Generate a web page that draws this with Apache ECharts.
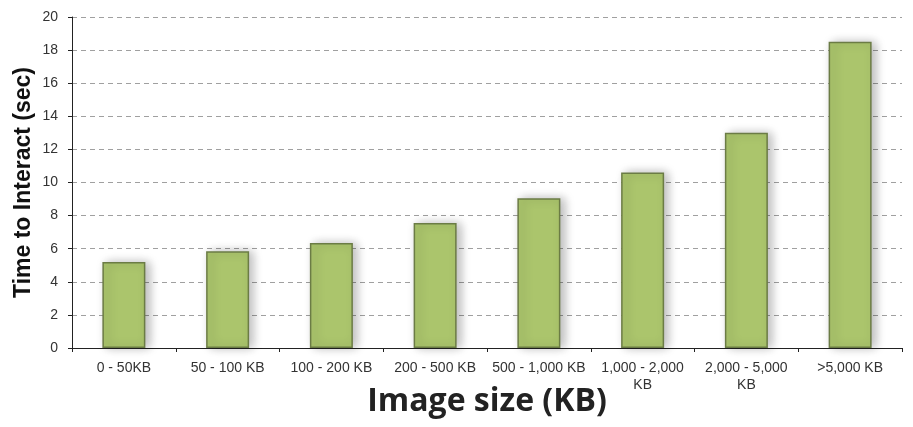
<!DOCTYPE html>
<html>
<head>
<meta charset="utf-8">
<script src="https://cdn.jsdelivr.net/npm/echarts@6/dist/echarts.min.js"></script>
<style>
  html, body { margin: 0; padding: 0; background: #ffffff; }
  #chart { width: 913px; height: 427px; }
</style>
</head>
<body>
<div id="chart"></div>
<script>
// Image size buckets and the average time to interact for each
const categories = ['0 - 50KB', '50 - 100 KB', '100 - 200 KB', '200 - 500 KB', '500 - 1,000 KB', '1,000 - 2,000 KB', '2,000 - 5,000 KB', '>5,000 KB'];
const timeToInteract = [5.2, 5.85, 6.35, 7.55, 9.05, 10.6, 13.0, 18.5];
const yTicks = { min: 0, max: 20, interval: 2 };

const chart = echarts.init(document.getElementById('chart'), null, { renderer: 'canvas' });

chart.setOption({
  animation: false,
  grid: { left: 72, right: 11, top: 17, bottom: 79, containLabel: false, outerBoundsMode: 'none' },
  xAxis: {
    type: 'category',
    data: categories,
    name: 'Image size (KB)',
    nameLocation: 'middle',
    nameGap: 38,
    nameMoveOverlap: false,
    nameTextStyle: { fontFamily: 'Open Sans', fontWeight: 'bold', fontSize: 32, color: '#222222' },
    axisLine: { show: true, lineStyle: { color: '#222222', width: 1 } },
    axisTick: { show: true, alignWithLabel: false, length: 4, lineStyle: { color: '#222222' } },
    axisLabel: {
      interval: 0,
      margin: 12,
      fontFamily: 'Liberation Sans',
      fontSize: 14,
      color: '#333333',
      lineHeight: 17,
      formatter: function (v) {
        // long bucket names wrap their unit onto a second line
        return v.length > 14 ? v.replace(' KB', '\nKB') : v;
      }
    },
    splitLine: { show: false }
  },
  yAxis: {
    type: 'value',
    min: yTicks.min,
    max: yTicks.max,
    interval: yTicks.interval,
    name: 'Time to Interact (sec)',
    nameLocation: 'middle',
    nameGap: 37,
    nameMoveOverlap: false,
    nameRotate: 90,
    nameTextStyle: { fontFamily: 'Liberation Sans', fontWeight: 'bold', fontSize: 23, color: '#111111' },
    axisLine: { show: true, lineStyle: { color: '#222222', width: 1 } },
    axisTick: { show: true, length: 4, lineStyle: { color: '#222222' } },
    axisLabel: { margin: 14, fontFamily: 'Liberation Sans', fontSize: 14, color: '#333333' },
    splitLine: { show: true, lineStyle: { color: '#a0a0a0', type: [5, 4], width: 1 } }
  },
  series: [{
    type: 'bar',
    data: timeToInteract,
    barWidth: 43,
    itemStyle: {
      color: '#abc56c',
      borderColor: '#6b7c45',
      borderWidth: 1.5,
      shadowColor: 'rgba(0,0,0,0.28)',
      shadowBlur: 10,
      shadowOffsetX: 4,
      shadowOffsetY: 0
    }
  }]
});
</script>
</body>
</html>
